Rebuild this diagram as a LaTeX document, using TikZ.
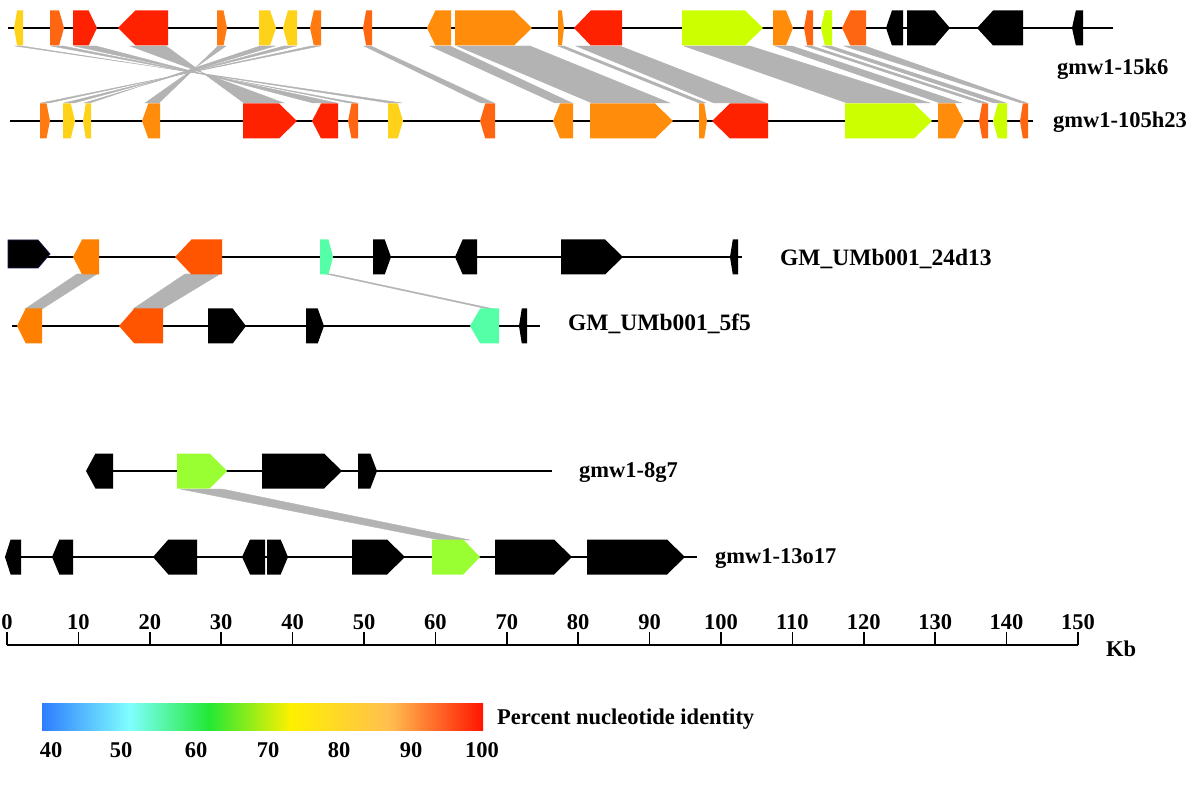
\documentclass[tikz,border=0pt]{standalone}
\usepackage{fontspec}
\setmainfont{Liberation Serif}
\definecolor{cY}{HTML}{FFD21A}
\definecolor{cOR}{HTML}{FF6612}
\definecolor{cO}{HTML}{FF8C0A}
\definecolor{cO2}{HTML}{FF7A10}
\definecolor{cR}{HTML}{FF2200}
\definecolor{cL}{HTML}{CCFF00}
\definecolor{cAq}{HTML}{55FFA8}
\definecolor{cG}{HTML}{99FF33}
\definecolor{tO}{HTML}{FF8000}
\definecolor{tOR}{HTML}{FF5500}
\definecolor{linkc}{HTML}{B3B3B3}
\definecolor{navy}{HTML}{1A1A50}
\definecolor{cb1}{HTML}{2E7DFF}
\definecolor{cb2}{HTML}{80FFFF}
\definecolor{cb3}{HTML}{22E835}
\definecolor{cb4}{HTML}{FFF000}
\definecolor{cb5}{HTML}{FFBE50}
\definecolor{cb6}{HTML}{FF1500}
\newcommand{\gR}[4]{\pgfmathsetmacro{\gT}{min(18,0.35*(#2-#1))}%
  \fill[#4] (#1,#3-17.5) -- ({#2-\gT},#3-17.5) -- (#2,#3) -- ({#2-\gT},#3+17.5) -- (#1,#3+17.5) -- cycle;}
\newcommand{\gL}[4]{\pgfmathsetmacro{\gT}{min(18,0.35*(#2-#1))}%
  \fill[#4] (#2,#3-17.5) -- ({#1+\gT},#3-17.5) -- (#1,#3) -- ({#1+\gT},#3+17.5) -- (#2,#3+17.5) -- cycle;}
\newcommand{\lk}[6]{\filldraw[linkc, line width=0.4pt] (#1,#3) -- (#2,#3) -- (#5,#6) -- (#4,#6) -- cycle;}
\tikzset{
  trk/.style={line width=2.6pt, black},
  trkb/.style={line width=2.2pt, black},
  lbl/.style={font=\fontsize{22.5}{26}\selectfont\bfseries, inner sep=0pt},
  lblg/.style={font=\fontsize{23.5}{27}\selectfont\bfseries, inner sep=0pt},
  axlbl/.style={font=\fontsize{22.5}{26}\selectfont\bfseries, inner sep=0pt},
  axisline/.style={line width=1.6pt, black}
}
\begin{document}
\begin{tikzpicture}[x=1pt,y=-1pt]
\useasboundingbox (0,0) rectangle (1200,786);
\fill[white] (0,0) rectangle (1200,786);
% ---------- links track 1 -> 2
\lk{15}{22}{46}{402}{389}{103}
\lk{51}{63}{46}{357}{349}{103}
\lk{74}{96}{46}{337}{313}{103}
\lk{130}{166}{46}{284}{244}{103}
\lk{218}{226}{46}{159}{145}{103}
\lk{260}{275}{46}{90}{84}{103}
\lk{284}{296}{46}{74}{64}{103}
\lk{311}{320}{46}{49}{41}{103}
\lk{364}{371}{46}{481}{494}{103}
\lk{430}{450}{46}{555}{572}{103}
\lk{457}{530}{46}{592}{670}{103}
\lk{558}{564}{46}{699}{706}{103}
\lk{576}{620}{46}{714}{766}{103}
\lk{684}{750}{46}{847}{930}{103}
\lk{775}{792}{46}{940}{962}{103}
\lk{805}{812}{46}{980}{987}{103}
\lk{822}{831}{46}{994}{1006}{103}
\lk{844}{865}{46}{1021}{1027}{103}
% ---------- links track 3 -> 4
\lk{77}{97}{274}{25}{42}{309}
\lk{185}{220}{274}{133}{162}{309}
\lk{326}{331}{274}{488}{494}{309}
% ---------- link track 5 -> 6
\lk{180}{222}{489}{440}{470}{540}
% ---------- track 1
\draw[trk] (8,28) -- (1113,28);
\gL{14}{23}{28}{cY}
\gR{50}{64}{28}{cOR}
\gR{73}{97}{28}{cR}
\gL{118}{168}{28}{cR}
\gR{217}{227}{28}{cO2}
\gR{259}{276}{28}{cY}
\gL{283}{297}{28}{cY}
\gL{310}{321}{28}{cO2}
\gL{363}{372}{28}{cOR}
\gL{427}{451}{28}{cO}
\gR{455}{532}{28}{cO}
\gR{558}{564}{28}{cO}
\gL{574}{622}{28}{cR}
\gR{682}{763}{28}{cL}
\gR{773}{793}{28}{cO}
\gL{804}{813}{28}{cOR}
\gL{821}{832}{28}{cL}
\gL{842}{866}{28}{cOR}
\gL{886}{903}{28}{black}
\gR{907}{950}{28}{black}
\gL{977}{1023}{28}{black}
\gL{1072}{1083}{28}{black}
\node[lbl, anchor=base west] (n15k6) at (1057,75) {gmw1-15k6};
% ---------- track 2
\draw[trk] (10,121) -- (1033,121);
\gR{40}{50}{121}{cO2}
\gR{63}{75}{121}{cY}
\gL{83}{91}{121}{cY}
\gL{142}{160}{121}{cO}
\gR{243}{297}{121}{cR}
\gL{312}{338}{121}{cR}
\gL{348}{358}{121}{cOR}
\gR{388}{403}{121}{cY}
\gL{480}{495}{121}{cOR}
\gL{553}{573}{121}{cO}
\gR{590}{673}{121}{cO}
\gR{699}{707}{121}{cO}
\gL{712}{768}{121}{cR}
\gR{845}{932}{121}{cL}
\gR{938}{964}{121}{cO}
\gL{979}{988}{121}{cOR}
\gL{993}{1007}{121}{cL}
\gL{1020}{1028}{121}{cOR}
\node[lbl, anchor=base west] (n105h23) at (1053,128) {gmw1-105h23};
% ---------- track 3
\draw[trkb] (8,257) -- (742,257);
\filldraw[fill=black, draw=navy, line width=0.8pt] (8,240) -- (38,240) -- (50,254) -- (38,268) -- (8,268) -- cycle;
\gL{73}{99}{257}{tO}
\gL{175}{222}{257}{tOR}
\gR{320}{333}{257}{cAq}
\gR{373}{391}{257}{black}
\gL{455}{477}{257}{black}
\gR{561}{623}{257}{black}
\gL{730}{738}{257}{black}
\node[lblg, anchor=base west] (n24d13) at (780,266) {GM\_UMb001\_24d13};
% ---------- track 4
\draw[trkb] (12,326) -- (540,326);
\gL{17}{42}{326}{tO}
\gL{119}{163}{326}{tOR}
\gR{208}{246}{326}{black}
\gR{306}{324}{326}{black}
\gL{470}{499}{326}{cAq}
\gL{519}{527}{326}{black}
\node[lblg, anchor=base west] (n5f5) at (568,331) {GM\_UMb001\_5f5};
% ---------- track 5
\draw[trkb] (88,471) -- (552,471);
\gL{86}{113}{471}{black}
\gR{177}{227}{471}{cG}
\gR{262}{342}{471}{black}
\gR{358}{377}{471}{black}
\node[lbl, anchor=base west] (n8g7) at (579,477) {gmw1-8g7};
% ---------- track 6
\draw[trkb] (7,557) -- (697,557);
\gL{5}{21}{557}{black}
\gL{52}{73}{557}{black}
\gL{153}{197}{557}{black}
\gL{242}{265}{557}{black}
\gR{267}{288}{557}{black}
\gR{352}{405}{557}{black}
\gR{432}{480}{557}{cG}
\gR{495}{572}{557}{black}
\gR{587}{685}{557}{black}
\node[lbl, anchor=base west] (n13o17) at (715,563) {gmw1-13o17};
% ---------- scale axis
\draw[axisline] (7,645) -- (1078,645);
\foreach \i in {0,...,15}{
  \pgfmathsetmacro{\xx}{7+71.4*\i}
  \pgfmathtruncatemacro{\lab}{10*\i}
  \draw[axisline] (\xx,645) -- (\xx,632);
  \node[axlbl, anchor=base] (ax\i) at (\xx,629) {\lab};
}
\node[axlbl, anchor=base west] (kb) at (1106,656) {Kb};
% ---------- colour bar
\shade[left color=cb1, right color=cb2] (42,703) rectangle (130,730);
\shade[left color=cb2, right color=cb3] (129.5,703) rectangle (209,730);
\shade[left color=cb3, right color=cb4] (208.5,703) rectangle (291,730);
\shade[left color=cb4, right color=cb5] (290.5,703) rectangle (390,730);
\shade[left color=cb5, right color=cb6] (389.5,703) rectangle (483,730);
\node[lbl, anchor=base west] (pni) at (497,724) {Percent nucleotide identity};
\foreach \v/\xx in {40/51,50/121,60/196,70/268,80/339,90/411,100/482}{
  \node[axlbl, anchor=base] (cb\v) at (\xx,757) {\v};
}
\end{tikzpicture}
\end{document}
